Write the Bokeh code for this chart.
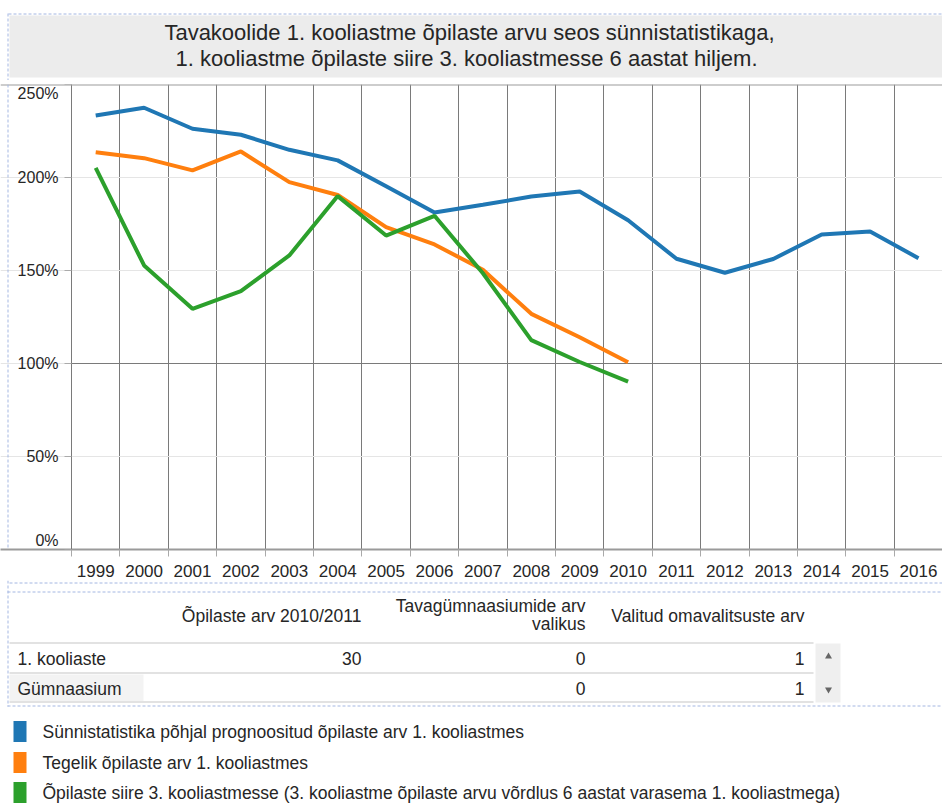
from bokeh.plotting import figure
from bokeh.layouts import column
from bokeh.models import Range1d, FixedTicker, Span, ColumnDataSource, LinearAxis, PrintfTickFormatter
from bokeh.embed import file_html
from bokeh.resources import INLINE
from bokeh.core.properties import value

# ---------------- data ----------------
years = [str(y) for y in range(1999, 2017)]
prognoos = [233.3, 237.5, 226.2, 223.0, 214.9, 209.2, 195.3, 181.2, 185.3, 189.8, 192.5, 177.0,
            156.3, 148.8, 156.2, 169.4, 171.0, 156.6]
tegelik = [213.6, 210.4, 203.8, 214.0, 197.5, 190.6, 173.3, 164.0, 150.4, 126.7, 114.1, 100.7]
siire = [205.2, 152.7, 129.4, 138.9, 158.1, 190.0, 168.8, 179.4, 148.5, 112.6, 100.8, 90.3]
yticks = [0, 50, 100, 150, 200, 250]
series_names = [
    "Sünnistatistika põhjal prognoositud õpilaste arv 1. kooliastmes",
    "Tegelik õpilaste arv 1. kooliastmes",
    "Õpilaste siire 3. kooliastmesse (3. kooliastme õpilaste arvu võrdlus 6 aastat varasema 1. kooliastmega)",
]
colors = ["#1f77b4", "#ff7f0e", "#2ca02c"]
title_lines = ["Tavakoolide 1. kooliastme õpilaste arvu seos sünnistatistikaga,",
               "1. kooliastme õpilaste siire 3. kooliastmesse 6 aastat hiljem."]
table_header = [["Õpilaste arv 2010/2011"], ["Tavagümnaasiumide arv", "valikus"], ["Valitud omavalitsuste arv"]]
table_rows = ["1. kooliaste", "Gümnaasium"]
table_vals = [["30", "0", "1"], ["", "0", "1"]]

# ---------------- style ----------------
FONT = "Liberation Sans"
TXT = "#262626"
DASH = "#a4b7e2"
GRID = "#7a7a7a"
W = 942
PX = 48.4       # pixels per year band
AXIS_PX = 71    # frame left -> y axis
PY = 465 / 250  # pixels per percent


def blank(h, y0, y1):
    f = figure(width=W, height=h, x_range=Range1d(0, W), y_range=Range1d(y1, y0),
               output_backend="svg", toolbar_location=None, min_border=0,
               x_axis_type=None, y_axis_type=None)
    f.outline_line_color = None
    f.background_fill_color = "white"
    f.border_fill_color = "white"
    return f


def txt(f, x, y, t, size, align="left", color=TXT):
    f.text(x=x, y=y, text=t, text_font=value(FONT), text_font_size=size,
           text_align=align, text_baseline="middle", text_color=color)


# ---------------- title ----------------
tf = blank(80, 0, 80)
tf.quad(left=9, right=W, top=15, bottom=77, fill_color="#ececec", line_color=None)
tf.line([8, W], [13.5, 13.5], line_color=DASH, line_width=1, line_dash="3 2")
tf.line([7.5, 7.5], [13, 80], line_color=DASH, line_width=1, line_dash="3 2")
txt(tf, [469, 466], [32, 58], title_lines, "22px", align="center")

# ---------------- chart ----------------
xs = list(range(len(years)))
x0 = -0.5 - AXIS_PX / PX
x1 = -0.5 + (W - AXIS_PX) / PX
p = figure(width=W, height=500, x_range=Range1d(x0, x1), y_range=Range1d(yticks[0], yticks[-1]),
           output_backend="svg", toolbar_location=None, y_axis_location=None,
           min_border_left=0, min_border_right=0, min_border_top=4, min_border_bottom=31)
p.outline_line_color = None
p.background_fill_color = "white"
p.border_fill_color = "white"

tick = FixedTicker(ticks=xs, minor_ticks=[i - 0.5 for i in xs])
p.xaxis.ticker = tick
p.xaxis.major_label_overrides = {i: y for i, y in zip(xs, years)}
p.xaxis.major_tick_line_color = None
p.xaxis.major_tick_out = 0
p.xaxis.major_tick_in = 0
p.xaxis.minor_tick_out = 7
p.xaxis.minor_tick_in = 0
p.xaxis.minor_tick_line_color = "#aaaaaa"
p.xaxis.axis_line_color = "#9a9a9a"
p.xaxis.axis_line_width = 2
p.xaxis.major_label_text_font = FONT
p.xaxis.major_label_text_font_size = "17px"
p.xaxis.major_label_text_color = TXT
p.xaxis.major_label_standoff = 8
p.xgrid.ticker = tick
p.xgrid.grid_line_color = None
p.xgrid.minor_grid_line_color = GRID
p.xgrid.minor_grid_line_width = 1


def style_y(ax):
    ax.major_tick_out = 7
    ax.major_tick_in = 0
    ax.minor_tick_line_color = None
    ax.major_label_text_font = FONT
    ax.major_label_text_font_size = "16px"
    ax.major_label_text_color = TXT
    ax.major_label_standoff = 6


# main y axis (end labels are moved inward, as in the original)
ya = LinearAxis(fixed_location=-0.5, ticker=FixedTicker(ticks=yticks),
                formatter=PrintfTickFormatter(format="%d%%"))
style_y(ya)
ya.axis_line_color = GRID
ya.major_tick_line_color = "#aaaaaa"
ya.major_label_overrides = {yticks[0]: "", yticks[-1]: ""}
p.add_layout(ya, "left")

shift = 9 / PY
end_pos = [yticks[0] + shift, yticks[-1] - shift]
ya2 = LinearAxis(fixed_location=-0.5, ticker=FixedTicker(ticks=end_pos),
                 major_label_overrides={end_pos[0]: f"{yticks[0]}%", end_pos[1]: f"{yticks[-1]}%"})
style_y(ya2)
ya2.axis_line_color = None
ya2.major_tick_line_color = None
p.add_layout(ya2, "left")

p.segment(x0=[-0.5], y0=[yticks[2]], x1=[x1], y1=[yticks[2]], line_color=GRID, line_width=1)
p.add_layout(Span(location=yticks[-1], dimension="width", line_color="#9b9b9b", line_width=2))
p.add_layout(Span(location=x0 + 7.5 / PX, dimension="height", line_color=DASH,
                  line_width=1, line_dash="3 2"))

for vals, c in zip([prognoos, tegelik, siire], colors):
    src = ColumnDataSource(dict(x=xs[:len(vals)], y=vals))
    p.line("x", "y", source=src, line_color=c, line_width=4)

# ---------------- table + legend ----------------
bf = blank(223, 580, 803)
for yy, xa in [(582.5, 9), (591.5, 7), (705.5, 7)]:
    bf.line([xa, W], [yy, yy], line_color=DASH, line_width=1, line_dash="3 2")
bf.line([7.5, 7.5], [580, 706], line_color=DASH, line_width=1, line_dash="3 2")

col_right = [361, 585, 804]
head_y = {1: [615], 2: [605, 623]}
for cx, lines in zip(col_right, table_header):
    ys = head_y[len(lines)]
    txt(bf, [cx] * len(lines), ys, lines, "17.5px", align="right")

bf.quad(left=9, right=143, top=674, bottom=701, fill_color="#f3f3f3", line_color=None)
for yy in [642.5, 672.5, 701.5]:
    bf.line([9, 813], [yy, yy], line_color="#e2e2e2", line_width=2)
row_y = [658, 688]
txt(bf, [17] * len(table_rows), row_y, table_rows, "17.5px")
for ry, vals in zip(row_y, table_vals):
    txt(bf, col_right, [ry] * len(vals), vals, "17.5px", align="right")

bf.quad(left=815, right=840, top=643, bottom=702, fill_color="#efefef", line_color=None)
bf.scatter([828], [656], marker="triangle", size=7, fill_color="#666666", line_color=None)
bf.scatter([828], [689], marker="inverted_triangle", size=7, fill_color="#666666", line_color=None)

leg_y = [731, 762, 792]
bf.quad(left=[13] * 3, right=[26] * 3, top=[y - 10.5 for y in leg_y], bottom=[y + 10.5 for y in leg_y],
        fill_color=colors, line_color=None)
txt(bf, [42] * 3, leg_y, series_names, "17.5px")

layout = column(tf, p, bf, spacing=0)
open("out.html", "w").write(file_html(layout, INLINE))
